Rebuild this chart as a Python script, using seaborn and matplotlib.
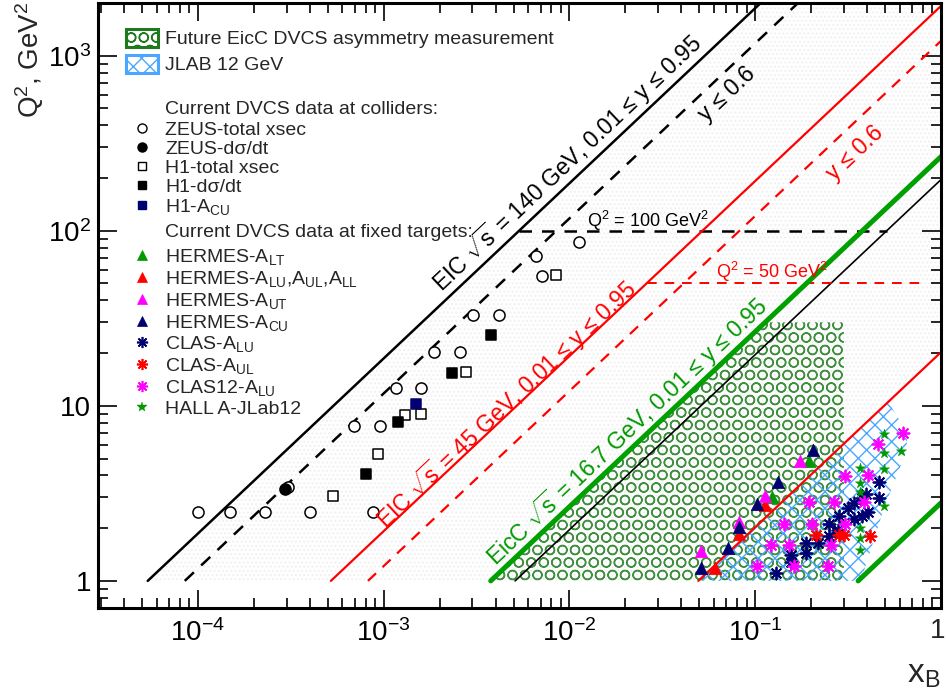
import numpy as np
import matplotlib
matplotlib.use("Agg")
import matplotlib.pyplot as plt
import matplotlib.hatch as mhatch
import matplotlib.ticker as mticker
from matplotlib.lines import Line2D
from matplotlib.patches import Rectangle
import seaborn as sns

# ---------------- data ----------------
zeus_tot_x = [1.0e-4, 1.48e-4, 2.3e-4, 4.03e-4, 8.73e-4, 3.04e-4, 6.95e-4, 9.5e-4,
              1.17e-3, 1.59e-3, 1.86e-3, 2.56e-3, 3.03e-3, 4.17e-3, 6.63e-3, 7.13e-3, 1.12e-2]
zeus_tot_q2 = [2.47, 2.47, 2.47, 2.47, 2.47, 3.44, 7.62, 7.62,
               12.6, 12.6, 20.2, 20.2, 33.0, 33.0, 71.3, 55.3, 86.2]
zeus_dsdt_x = [2.95e-4]
zeus_dsdt_q2 = [3.36]
h1_tot_x = [5.36e-4, 9.36e-4, 1.31e-3, 1.58e-3, 2.79e-3, 8.42e-3]
h1_tot_q2 = [3.06, 5.34, 8.89, 8.97, 15.6, 55.8]
h1_dsdt_x = [8.04e-4, 1.2e-3, 2.34e-3, 3.76e-3]
h1_dsdt_q2 = [4.1, 8.1, 15.5, 25.5]
h1_acu_x = [1.5e-3]
h1_acu_q2 = [10.3]

hermes_alt_x = [0.123, 0.195]
hermes_alt_q2 = [3.03, 4.87]
hermes_alu_x = [0.0607, 0.0819, 0.1125]
hermes_alu_q2 = [1.18, 1.86, 2.72]
hermes_aut_x = [0.0508, 0.0819, 0.1125, 0.174]
hermes_aut_q2 = [1.48, 2.18, 3.06, 4.87]
hermes_acu_x = [0.0508, 0.0718, 0.0819, 0.102, 0.133, 0.205]
hermes_acu_q2 = [1.18, 1.55, 2.03, 2.75, 3.69, 5.6]

clas_alu_x = [0.129, 0.155, 0.155, 0.187, 0.187, 0.219, 0.250, 0.250, 0.281, 0.278,
              0.314, 0.341, 0.341, 0.375, 0.375, 0.397, 0.403, 0.461, 0.461]
clas_alu_q2 = [1.115, 1.41, 1.29, 1.64, 1.45, 1.64, 2.12, 1.81, 2.35, 1.96,
               2.60, 2.78, 2.25, 2.99, 2.35, 3.13, 2.46, 3.65, 2.99]
clas_aul_x = [0.212, 0.283, 0.301, 0.416]
clas_aul_q2 = [1.83, 1.83, 1.83, 1.81]
clas12_alu_x = [0.621, 0.459, 0.407, 0.305, 0.386, 0.266, 0.194, 0.305, 0.203, 0.142,
                0.122, 0.152, 0.255, 0.102, 0.162, 0.245]
clas12_alu_q2 = [7.04, 6.04, 4.03, 3.98, 2.82, 2.82, 2.82, 2.11, 2.11, 2.11,
                 1.61, 1.61, 1.61, 1.21, 1.21, 1.21]
halla_x = [0.491, 0.608, 0.491, 0.491, 0.367, 0.367, 0.367, 0.491, 0.367, 0.367, 0.367]
halla_q2 = [6.89, 5.53, 5.37, 4.37, 4.44, 3.61, 3.24, 2.69, 2.0, 1.75, 1.50]

# kinematic limit lines (end points)
eic140_y095_x, eic140_y095_q2 = [5.37e-5, 0.107], [1.0, 2000.0]
eic140_y06_x, eic140_y06_q2 = [8.5e-5, 0.17], [1.0, 2000.0]
eic140_y001_x, eic140_y001_q2 = [5.1e-3, 1.0], [1.0, 196.0]
q2_100_x, q2_100_q2 = [5.37e-3, 0.51], [100.0, 100.0]
eic45_y095_x, eic45_y095_q2 = [5.2e-4, 1.0], [1.0, 1924.0]
eic45_y06_x, eic45_y06_q2 = [8.23e-4, 1.0], [1.0, 1215.0]
eic45_y001_x, eic45_y001_q2 = [0.0494, 1.0], [1.0, 20.25]
q2_50_x, q2_50_q2 = [0.026, 0.78], [50.0, 50.0]
eicc_y095_x, eicc_y095_q2 = [3.77e-3, 1.0], [1.0, 265.0]
eicc_y001_x, eicc_y001_q2 = [0.358, 1.0], [1.0, 2.79]

# regions
eic_region_x = [5.37e-5, 0.107, 1.0, 1.0, 0.0494]
eic_region_q2 = [1.0, 2000.0, 2000.0, 20.25, 1.0]
eicc_region_x = [3.77e-3, 0.113, 0.30, 0.30]
eicc_region_q2 = [1.0, 30.0, 30.0, 1.0]
jlab_region_x = [0.0494, 0.52, 0.66, 0.65, 0.49, 0.37]
jlab_region_q2 = [1.0, 10.5, 7.0, 5.5, 2.55, 1.0]

# ---------------- style ----------------
sns.set_theme(style="ticks")
plt.rcParams["font.family"] = ["Liberation Sans", "DejaVu Sans"]
plt.rcParams["mathtext.fontset"] = "custom"
plt.rcParams["mathtext.rm"] = "Liberation Sans"
plt.rcParams["mathtext.it"] = "Liberation Sans:italic"
plt.rcParams["mathtext.bf"] = "Liberation Sans:bold"
plt.rcParams["mathtext.sf"] = "Liberation Sans"
plt.rcParams["hatch.linewidth"] = 1.0


class _DenseCircles(mhatch.Circles):
    size = 0.37

    def __init__(self, hatch, density):
        self.num_rows = hatch.count("O") * 8
        super().__init__(hatch, density)


mhatch._hatch_types = [(_DenseCircles if t is mhatch.LargeCircles else t)
                       for t in mhatch._hatch_types]

NAVY = "#000070"
RED = "#ff0000"
MAG = "#ff00ff"
GRN = "#009900"
GRN_LINE = "#00a000"
GRN_HATCH = "#3f8f3f"
BLUE_HATCH = "#4aa6ff"

W, H = 946, 694
fig = plt.figure(figsize=(W / 100, H / 100), dpi=100)
ax = fig.add_axes([98 / W, 1 - 608 / H, (941 - 98) / W, (608 - 3) / H])
ax.set_xscale("log")
ax.set_yscale("log")
ax.set_xlim(2.9e-5, 1.0)
ax.set_ylim(0.7, 2000)

# regions
ax.fill(eic_region_x, eic_region_q2, facecolor="none", edgecolor="#f1f1f1",
        hatch="....", linewidth=0, zorder=0.5)
ax.fill(eicc_region_x, eicc_region_q2, facecolor="none", edgecolor=GRN_HATCH,
        hatch="O", linewidth=0, zorder=1)
ax.fill(jlab_region_x, jlab_region_q2, facecolor="none", edgecolor=BLUE_HATCH,
        hatch="xx", linewidth=0, zorder=1.1)


def line(x, y, color, lw, ls="-"):
    sns.lineplot(x=x, y=y, ax=ax, color=color, linewidth=lw, linestyle=ls,
                 sort=False, estimator=None, zorder=2)


dash = (0, (5, 4))
line(eic140_y095_x, eic140_y095_q2, "black", 1.8)
line(eic140_y06_x, eic140_y06_q2, "black", 1.8, dash)
line(eic140_y001_x, eic140_y001_q2, "black", 1.2)
line(q2_100_x, q2_100_q2, "black", 1.8, dash)
line(eic45_y095_x, eic45_y095_q2, RED, 1.6)
line(eic45_y06_x, eic45_y06_q2, RED, 1.6, dash)
line(eic45_y001_x, eic45_y001_q2, RED, 1.6)
line(q2_50_x, q2_50_q2, RED, 1.4, dash)
line(eicc_y095_x, eicc_y095_q2, GRN_LINE, 3.6)
line(eicc_y001_x, eicc_y001_q2, GRN_LINE, 3.6)


def pts(x, y, marker, fc, ec, s, lw=1.1):
    sns.scatterplot(x=x, y=y, ax=ax, marker=marker, s=s, facecolor=fc,
                    edgecolor=ec, linewidth=lw, zorder=3)


AST = (8, 2, 0)
pts(zeus_tot_x, zeus_tot_q2, "o", "white", "black", 64)
pts(zeus_dsdt_x, zeus_dsdt_q2, "o", "black", "black", 64)
pts(h1_tot_x, h1_tot_q2, "s", "white", "black", 60)
pts(h1_dsdt_x, h1_dsdt_q2, "s", "black", "black", 60)
pts(h1_acu_x, h1_acu_q2, "s", NAVY, NAVY, 60)
pts(hermes_alt_x, hermes_alt_q2, "^", GRN, GRN, 80, 0.5)
pts(hermes_alu_x, hermes_alu_q2, "^", RED, RED, 80, 0.5)
pts(hermes_aut_x, hermes_aut_q2, "^", MAG, MAG, 80, 0.5)
pts(hermes_acu_x, hermes_acu_q2, "^", NAVY, NAVY, 80, 0.5)
pts(clas_alu_x, clas_alu_q2, AST, NAVY, NAVY, 75, 1.3)
pts(clas_aul_x, clas_aul_q2, AST, RED, RED, 75, 1.3)
pts(clas12_alu_x, clas12_alu_q2, AST, MAG, MAG, 75, 1.3)
pts(halla_x, halla_q2, "*", GRN, GRN, 60, 0.3)

# axes styling
for sp in ax.spines.values():
    sp.set_linewidth(2.2)
    sp.set_color("black")
ax.xaxis.set_major_locator(mticker.FixedLocator([1e-4, 1e-3, 1e-2, 1e-1, 1.0]))
ax.xaxis.set_major_formatter(mticker.FixedFormatter(
    [r"$\mathregular{10^{-4}}$", r"$\mathregular{10^{-3}}$", r"$\mathregular{10^{-2}}$",
     r"$\mathregular{10^{-1}}$", ""]))
ax.yaxis.set_major_locator(mticker.FixedLocator([1.0, 10.0, 100.0, 1000.0]))
ax.yaxis.set_major_formatter(mticker.FixedFormatter(
    ["1", "10", r"$\mathregular{10^{2}}$", r"$\mathregular{10^{3}}$"]))
for axis in (ax.xaxis, ax.yaxis):
    axis.set_minor_locator(mticker.LogLocator(base=10, subs=np.arange(2, 10), numticks=30))
    axis.set_minor_formatter(mticker.NullFormatter())
ax.tick_params(which="both", direction="in", top=True, right=True, width=1.2,
               color="black", labelcolor="black", labelsize=20)
ax.tick_params(axis="x", which="major", length=13, pad=8)
ax.tick_params(axis="y", which="major", length=14, pad=5)
ax.tick_params(which="minor", length=7)
ax.set_xlabel("")
ax.set_ylabel("")
ax.grid(False)


def P(x, y):
    return (x / W, 1 - y / H)


# the "1" label of the x axis sits right on the figure edge, as in the reference
fig.text(*P(945, 618), "1", ha="right", va="top", fontsize=20)
fig.text(*P(940, 690), r"x$_\mathregular{B}$", ha="right", va="bottom", fontsize=24)
fig.text(*P(30, 2), r"Q$^\mathregular{2}$, GeV$^\mathregular{2}$", rotation=90,
         ha="center", va="top", fontsize=20)

# line labels
fs = 16.5
fig.text(*P(567, 163), r"EIC $\sqrt{\mathregular{s}}$ = 140 GeV, 0.01 ≤ y ≤ 0.95",
         rotation=43.4, rotation_mode="anchor", ha="center", va="center",
         fontsize=fs, color="black")
fig.text(*P(727, 94), "y ≤ 0.6", rotation=43.4, rotation_mode="anchor",
         ha="center", va="center", fontsize=fs, color="black")
fig.text(*P(648, 221), r"Q$^\mathregular{2}$ = 100 GeV$^\mathregular{2}$",
         ha="center", va="center", fontsize=13, color="black")
fig.text(*P(506, 404), r"EIC $\sqrt{\mathregular{s}}$ = 45 GeV, 0.01 ≤ y ≤ 0.95",
         rotation=43.4, rotation_mode="anchor", ha="center", va="center",
         fontsize=fs, color=RED)
fig.text(*P(855, 153), "y ≤ 0.6", rotation=43.4, rotation_mode="anchor",
         ha="center", va="center", fontsize=fs, color=RED)
fig.text(*P(772, 272), r"Q$^\mathregular{2}$ = 50 GeV$^\mathregular{2}$",
         ha="center", va="center", fontsize=13, color=RED)
fig.text(*P(627, 431), r"EicC $\sqrt{\mathregular{s}}$ = 16.7 GeV, 0.01 ≤ y ≤ 0.95",
         rotation=43.4, rotation_mode="anchor", ha="center", va="center",
         fontsize=fs, color=GRN)

# ---------------- legend (drawn as figure artists) ----------------
LFS = 14
TX = 165
MX = 142
fig.add_artist(Rectangle(P(126, 47), 32 / W, 18 / H, transform=fig.transFigure,
                         facecolor="white", edgecolor="#1f7a1f", hatch="O", linewidth=2.2))
fig.add_artist(Rectangle(P(126, 73), 32 / W, 18 / H, transform=fig.transFigure,
                         facecolor="white", edgecolor=BLUE_HATCH, hatch="xx", linewidth=2.2))
fig.text(*P(TX, 44), "Future EicC DVCS asymmetry measurement", fontsize=LFS, va="baseline")
fig.text(*P(TX, 70), "JLAB 12 GeV", fontsize=LFS, va="baseline")
fig.text(*P(TX, 114), "Current DVCS data at colliders:", fontsize=LFS, va="baseline")
fig.text(*P(TX, 237), "Current DVCS data at fixed targets:", fontsize=LFS, va="baseline")

leg_rows = [
    (128, "ZEUS-total xsec", "o", "white", "black", 6.5, 1.0),
    (147, "ZEUS-dσ/dt", "o", "black", "black", 6.5, 1.0),
    (166, "H1-total xsec", "s", "white", "black", 6.0, 1.0),
    (185, "H1-dσ/dt", "s", "black", "black", 6.0, 1.0),
    (205, r"H1-A$_\mathregular{CU}$", "s", NAVY, NAVY, 6.0, 1.0),
    (255, r"HERMES-A$_\mathregular{LT}$", "^", GRN, GRN, 7.5, 0.5),
    (277, r"HERMES-A$_\mathregular{LU}$,A$_\mathregular{UL}$,A$_\mathregular{LL}$", "^", RED, RED, 7.5, 0.5),
    (299, r"HERMES-A$_\mathregular{UT}$", "^", MAG, MAG, 7.5, 0.5),
    (321, r"HERMES-A$_\mathregular{CU}$", "^", NAVY, NAVY, 7.5, 0.5),
    (342, r"CLAS-A$_\mathregular{LU}$", AST, NAVY, NAVY, 8.0, 1.2),
    (364, r"CLAS-A$_\mathregular{UL}$", AST, RED, RED, 8.0, 1.2),
    (386, r"CLAS12-A$_\mathregular{LU}$", AST, MAG, MAG, 8.0, 1.2),
    (407, "HALL A-JLab12", "*", GRN, GRN, 7.0, 0.3),
]
for y, lab, mk, fc, ec, ms, mew in leg_rows:
    fig.add_artist(Line2D([MX / W], [1 - y / H], transform=fig.transFigure, marker=mk,
                          markersize=ms, markerfacecolor=fc, markeredgecolor=ec,
                          markeredgewidth=mew, linestyle="none"))
    fig.text(*P(TX, y + 7), lab, fontsize=LFS, va="baseline")

fig.savefig("out.png", dpi=100)
